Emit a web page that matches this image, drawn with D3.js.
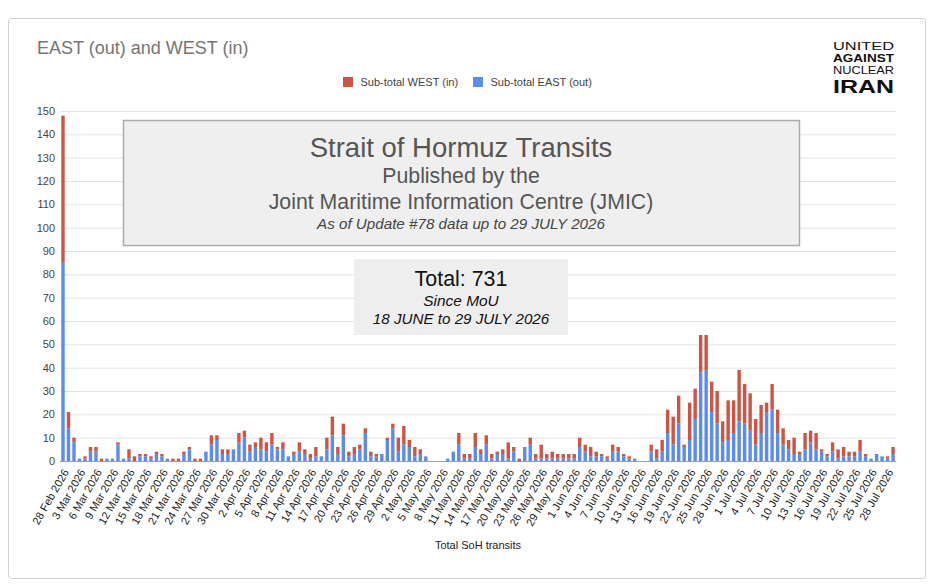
<!DOCTYPE html>
<html>
<head>
<meta charset="utf-8">
<script src="https://cdn.jsdelivr.net/npm/d3@7"></script>
<style>
  body { margin: 0; background: #fff; }
  svg { font-family: Arial, "Liberation Sans", sans-serif; }
</style>
</head>
<body>
<svg id="chart" width="936" height="588"></svg>
<script>
// Daily transits, 28 Feb 2026 .. 29 Jul 2026
const firstDay = new Date(Date.UTC(2026, 1, 28));
const lastDay = new Date(Date.UTC(2026, 6, 29));
const days = d3.utcDay.range(firstDay, d3.utcDay.offset(lastDay, 1));

// Sub-total EAST (out)
const eastOut = [
  85, 14, 8, 1, 1, 4, 4, 0, 1, 1, 7, 1, 1, 0, 2, 2, 1, 3, 2, 1,
  0, 0, 3, 5, 0, 0, 4, 7, 9, 3, 3, 5, 8, 10, 4, 6, 5, 4, 7, 5,
  5, 2, 3, 4, 3, 1, 2, 2, 5, 11, 3, 11, 2, 3, 5, 12, 2, 2, 3, 9,
  14, 4, 7, 6, 2, 3, 2, 0, 0, 0, 1, 4, 7, 1, 1, 6, 3, 7, 1, 3,
  3, 1, 4, 0, 6, 7, 1, 1, 1, 1, 1, 1, 1, 1, 6, 4, 2, 2, 2, 1,
  4, 4, 2, 1, 1, 0, 0, 4, 1, 4, 12, 7, 16, 6, 9, 18, 38, 39, 21, 16,
  8, 9, 12, 17, 16, 13, 7, 12, 21, 22, 12, 7, 5, 3, 3, 5, 8, 5, 4, 2,
  4, 1, 2, 2, 2, 4, 2, 1, 3, 2, 1, 3
];
// Sub-total WEST (in)
const westIn = [
  63, 7, 2, 0, 1, 2, 2, 1, 0, 0, 1, 0, 4, 2, 1, 1, 1, 1, 1, 0,
  1, 1, 1, 1, 1, 1, 0, 4, 2, 2, 2, 0, 4, 3, 3, 2, 5, 4, 5, 1,
  3, 0, 1, 4, 2, 2, 4, 0, 5, 8, 3, 5, 2, 3, 2, 2, 2, 1, 0, 1,
  2, 6, 8, 3, 4, 2, 0, 0, 0, 0, 0, 0, 5, 2, 2, 6, 2, 4, 2, 1,
  2, 7, 2, 1, 0, 3, 2, 6, 2, 3, 2, 2, 2, 2, 4, 3, 4, 2, 1, 1,
  3, 2, 1, 1, 0, 0, 0, 3, 4, 5, 10, 12, 12, 1, 16, 13, 16, 15, 13, 14,
  9, 17, 14, 22, 17, 16, 11, 12, 4, 11, 10, 7, 4, 7, 1, 7, 5, 7, 1, 1,
  4, 4, 4, 2, 2, 5, 1, 0, 0, 0, 1, 3
];

const yTicks = d3.range(0, 151, 10);
const seriesKeys = ["east", "west"];
const seriesNames = { west: "Sub-total WEST (in)", east: "Sub-total EAST (out)" };
const colors = { east: "#5a8dee", west: "#cc5643" };

const titleLines = ["Strait of Hormuz Transits", "Published by the", "Joint Maritime Information Centre (JMIC)"];
const titleNote = "As of Update #78 data up to 29 JULY 2026";
const totalLines = ["Total: 731", "Since MoU", "18 JUNE to 29 JULY 2026"];

const rows = days.map((d, i) => ({ day: d, east: eastOut[i], west: westIn[i] }));

const svg = d3.select("#chart");

// outer frame
svg.append("rect")
  .attr("x", 8.5).attr("y", 18.5)
  .attr("width", 917).attr("height", 560)
  .attr("rx", 3)
  .attr("fill", "#fff")
  .attr("stroke", "#d0d0d0");

// scales
const x = d3.scaleBand()
  .domain(days)
  .range([60.25, 895.8])
  .paddingInner(0.38)
  .paddingOuter(0.19);

const y = d3.scaleLinear().domain([0, 150]).range([461, 111]);

// gridlines + y labels
const yAxis = svg.append("g")
  .attr("transform", "translate(60,0)")
  .call(d3.axisLeft(y).tickValues(yTicks).tickSize(-836).tickPadding(5));
yAxis.select(".domain").remove();
yAxis.selectAll(".tick line").attr("stroke", "#e3e3e3");
yAxis.selectAll(".tick text")
  .attr("fill", "#444")
  .attr("font-size", 11)
  .attr("font-family", "Arial, 'Liberation Sans', sans-serif");

// title box (covers gridlines)
svg.append("rect")
  .attr("x", 123.5).attr("y", 120.5)
  .attr("width", 676).attr("height", 125)
  .attr("fill", "#efefef")
  .attr("stroke", "#aaa")
  .attr("stroke-width", 1.5);

const titleG = svg.append("g").attr("text-anchor", "middle").attr("fill", "#555");
titleG.append("text").attr("x", 461).attr("y", 157).attr("font-size", 27.5).text(titleLines[0]);
titleG.append("text").attr("x", 461).attr("y", 183).attr("font-size", 21.3).text(titleLines[1]);
titleG.append("text").attr("x", 461).attr("y", 209).attr("font-size", 21.3).text(titleLines[2]);
titleG.append("text").attr("x", 461).attr("y", 229)
  .attr("font-size", 15.2).attr("font-style", "italic").attr("fill", "#444").text(titleNote);

// total box
svg.append("rect")
  .attr("x", 354).attr("y", 259)
  .attr("width", 214).attr("height", 76)
  .attr("fill", "#eeeeee");

const totalG = svg.append("g").attr("text-anchor", "middle").attr("fill", "#111");
totalG.append("text").attr("x", 461).attr("y", 286).attr("font-size", 21.4).text(totalLines[0]);
totalG.append("text").attr("x", 461).attr("y", 306).attr("font-size", 15.4).attr("font-style", "italic").text(totalLines[1]);
totalG.append("text").attr("x", 461).attr("y", 324).attr("font-size", 15.2).attr("font-style", "italic").text(totalLines[2]);

// stacked bars
const stacked = d3.stack().keys(seriesKeys)(rows);

svg.append("g")
  .selectAll("g")
  .data(stacked)
  .join("g")
  .attr("fill", (s) => colors[s.key])
  .selectAll("rect")
  .data((s) => s.filter((d) => d[1] > d[0]))
  .join("rect")
  .attr("x", (d) => x(d.data.day))
  .attr("width", x.bandwidth())
  .attr("y", (d) => y(d[1]))
  .attr("height", (d) => y(d[0]) - y(d[1]));

// baseline
svg.append("line")
  .attr("x1", 60).attr("x2", 896)
  .attr("y1", y(0) + 0.5).attr("y2", y(0) + 0.5)
  .attr("stroke", "#9e9e9e");

// x axis labels, every 3rd day
const fmt = d3.utcFormat("%-d %b %Y");
const xAxis = svg.append("g")
  .attr("transform", "translate(0," + y(0) + ")")
  .call(d3.axisBottom(x).tickValues(days.filter((d, i) => i % 3 === 0)).tickFormat(fmt).tickSize(0));
xAxis.select(".domain").remove();
xAxis.selectAll(".tick text")
  .attr("font-size", 11)
  .attr("font-family", "Arial, 'Liberation Sans', sans-serif")
  .attr("fill", "#222")
  .attr("text-anchor", "end")
  .attr("x", 0).attr("y", 0).attr("dy", "0.35em")
  .attr("transform", "translate(3,9) rotate(-60)");

svg.append("text")
  .attr("x", 478).attr("y", 549)
  .attr("text-anchor", "middle")
  .attr("font-size", 11)
  .attr("fill", "#222")
  .text("Total SoH transits");

// chart title
svg.append("text")
  .attr("x", 37).attr("y", 54)
  .attr("font-size", 18)
  .attr("fill", "#757575")
  .text("EAST (out) and WEST (in)");

// legend
const legendItems = ["west", "east"];
const legendX = { west: 343, east: 473 };
const legend = svg.append("g").selectAll("g")
  .data(legendItems)
  .join("g")
  .attr("transform", (k) => "translate(" + legendX[k] + ",77)");
legend.append("rect").attr("width", 10).attr("height", 10).attr("fill", (k) => colors[k]);
legend.append("text")
  .attr("x", 17.5).attr("y", 9)
  .attr("font-size", 11)
  .attr("fill", "#444")
  .text((k) => seriesNames[k]);

// logo lines, sized so their boxes don't touch
const logoLines = [
  { t: "UNITED", y: 49.5, size: 10.5, w: 400 },
  { t: "AGAINST", y: 61.5, size: 10.5, w: 700 },
  { t: "NUCLEAR", y: 73.5, size: 10.5, w: 400 },
  { t: "IRAN", y: 93, size: 18, w: 700 }
];
svg.append("g")
  .selectAll("text")
  .data(logoLines)
  .join("text")
  .attr("x", 833)
  .attr("y", (d) => d.y)
  .attr("font-family", "Arial, 'Liberation Sans', sans-serif")
  .attr("font-size", (d) => d.size)
  .attr("font-weight", (d) => d.w)
  .attr("fill", "#111")
  .attr("textLength", 61)
  .attr("lengthAdjust", "spacingAndGlyphs")
  .text((d) => d.t);
</script>
</body>
</html>
